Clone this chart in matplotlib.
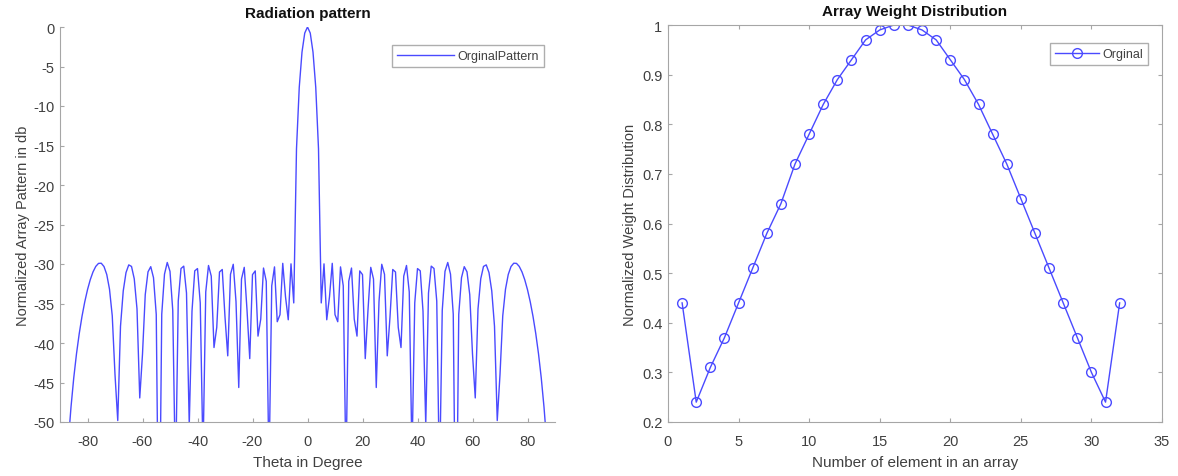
import numpy as np
import matplotlib
matplotlib.use("Agg")
import matplotlib.pyplot as plt

plt.rcParams['font.family'] = ['Liberation Sans', 'DejaVu Sans']
plt.rcParams['axes.unicode_minus'] = False

# ---- data ----
element_index = list(range(1, 33))
weights = [0.44, 0.24, 0.31, 0.37, 0.44, 0.51, 0.58, 0.64, 0.72, 0.78,
           0.84, 0.89, 0.93, 0.97, 0.99, 1.00, 1.00, 0.99, 0.97, 0.93,
           0.89, 0.84, 0.78, 0.72, 0.65, 0.58, 0.51, 0.44, 0.37, 0.30,
           0.24, 0.44]
spacing_wavelengths = 0.5
theta_start, theta_stop, theta_step = -90, 90, 1.0

left_xticks = [-80, -60, -40, -20, 0, 20, 40, 60, 80]
left_yticks = [0, -5, -10, -15, -20, -25, -30, -35, -40, -45, -50]
right_xticks = [0, 5, 10, 15, 20, 25, 30, 35]
right_yticks = [0.2, 0.3, 0.4, 0.5, 0.6, 0.7, 0.8, 0.9, 1.0]
right_yticklabels = ['0.2', '0.3', '0.4', '0.5', '0.6', '0.7', '0.8', '0.9', '1']

# ---- array factor of the weights above (sampled every degree) ----
theta = np.arange(theta_start, theta_stop + theta_step / 2, theta_step)
w = np.array(weights)
n = np.arange(len(w))
phase = 2 * np.pi * spacing_wavelengths * np.outer(np.sin(np.deg2rad(theta)), n)
af = np.abs(np.exp(1j * phase) @ w)
af_db = 20 * np.log10(af / af.max() + 1e-12)

blue = '#4a4aff'
spine_c = '#a6a6a6'
text_c = '#404040'

fig = plt.figure(figsize=(11.78, 4.77), dpi=100)
ax1 = fig.add_axes([60/1178, 54/477, 495/1178, 395/477])
ax2 = fig.add_axes([668/1178, 54/477, 494/1178, 397/477])

# Left: radiation pattern
ax1.plot(theta, af_db, color=blue, lw=1.0, label='OrginalPattern')
ax1.set_xlim(-90, 90)
ax1.set_ylim(-50, 0)
ax1.set_xticks(left_xticks)
ax1.set_yticks(left_yticks)
ax1.set_title('Radiation pattern', fontsize=11, fontweight='bold', color='#111111', pad=7)
ax1.set_xlabel('Theta in Degree', fontsize=11, color=text_c, labelpad=5)
ax1.set_ylabel('Normalized Array Pattern in db', fontsize=10.5, color=text_c, labelpad=2)
for s in ['top', 'right']:
    ax1.spines[s].set_visible(False)
for s in ['left', 'bottom']:
    ax1.spines[s].set_color(spine_c)
ax1.tick_params(direction='in', length=3, color=spine_c, labelcolor=text_c, labelsize=10.5)
ax1.tick_params(axis='x', pad=9)
ax1.tick_params(axis='y', pad=4)
leg1 = ax1.legend(loc='upper right', fontsize=9, frameon=True, fancybox=False,
                  edgecolor='#9a9a9a', handlelength=4.5, handletextpad=0.3,
                  borderpad=0.4, bbox_to_anchor=(0.99, 0.97))
leg1.get_frame().set_linewidth(1.0)
for t in leg1.get_texts():
    t.set_color(text_c)

# Right: weight distribution
ax2.plot(element_index, weights, color=blue, lw=1.0, marker='o', markersize=7,
         markerfacecolor='none', markeredgecolor=blue, markeredgewidth=1.0, label='Orginal')
ax2.set_xlim(0, 35)
ax2.set_ylim(0.2, 1.0)
ax2.set_xticks(right_xticks)
ax2.set_yticks(right_yticks)
ax2.set_yticklabels(right_yticklabels)
ax2.set_title('Array Weight Distribution', fontsize=11, fontweight='bold', color='#111111', pad=7)
ax2.set_xlabel('Number of element in an array', fontsize=11, color=text_c, labelpad=5)
ax2.set_ylabel('Normalized Weight Distribution', fontsize=10.5, color=text_c, labelpad=4)
for s in ax2.spines.values():
    s.set_color(spine_c)
ax2.tick_params(direction='in', length=3, color=spine_c, labelcolor=text_c, labelsize=10.5,
                top=True, right=True)
ax2.tick_params(axis='x', pad=9)
ax2.tick_params(axis='y', pad=4)
leg2 = ax2.legend(loc='upper right', fontsize=9, frameon=True, fancybox=False,
                  edgecolor='#9a9a9a', handlelength=3.5, handletextpad=0.3,
                  borderpad=0.4, bbox_to_anchor=(0.985, 0.97))
leg2.get_frame().set_linewidth(1.0)
for t in leg2.get_texts():
    t.set_color(text_c)

fig.savefig('out.png', dpi=100)
